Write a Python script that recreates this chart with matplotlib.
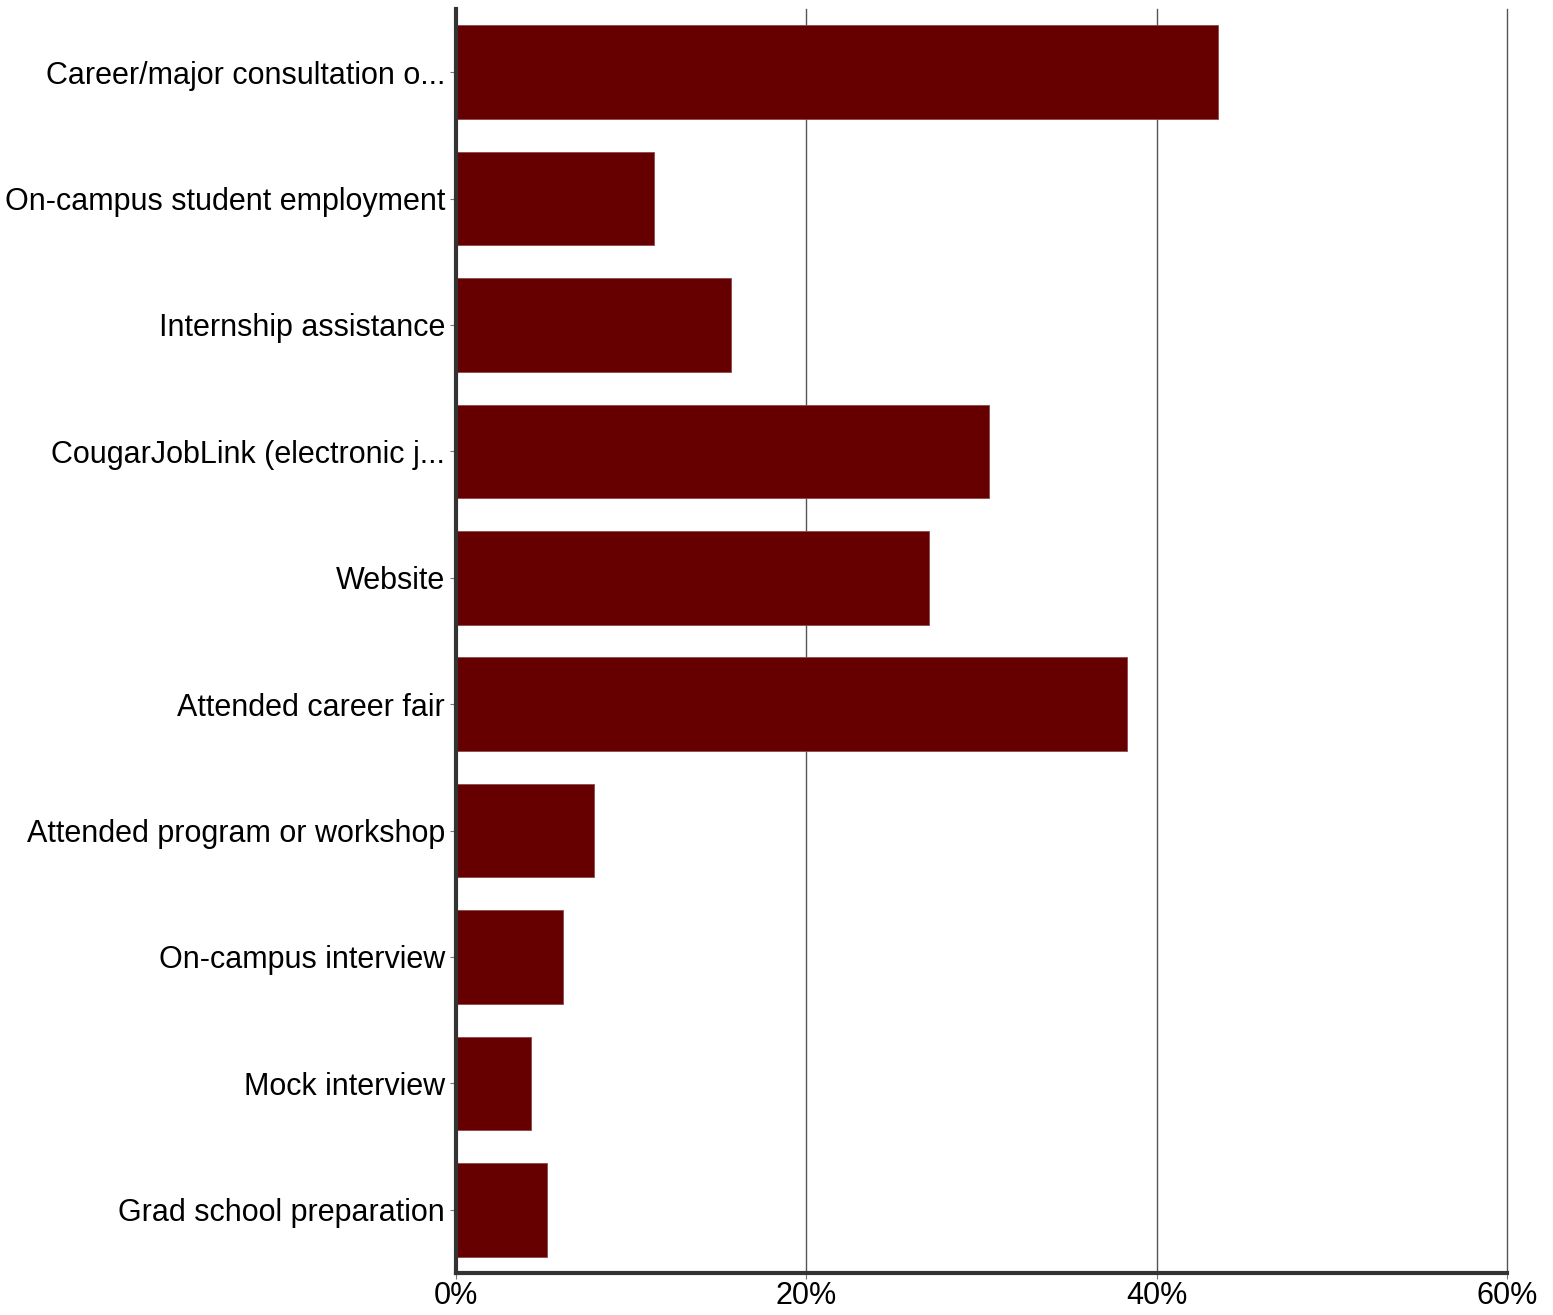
import matplotlib.pyplot as plt
from matplotlib.ticker import FuncFormatter

plt.rcParams['font.family'] = ['Liberation Sans', 'DejaVu Sans']

categories = [
    'Career/major consultation o...',
    'On-campus student employment',
    'Internship assistance',
    'CougarJobLink (electronic j...',
    'Website',
    'Attended career fair',
    'Attended program or workshop',
    'On-campus interview',
    'Mock interview',
    'Grad school preparation',
]
percent = [43.5, 11.3, 15.7, 30.4, 27.0, 38.3, 7.9, 6.1, 4.3, 5.2]
xticks = [0, 20, 40, 60]

fig = plt.figure(figsize=(15.53, 13.15), dpi=100)
ax = fig.add_axes([456 / 1553, 1 - 1273 / 1315, 1051 / 1553, 1264 / 1315])

ypos = list(range(len(categories)))
ax.barh(ypos, percent, height=0.74, color='#660000', edgecolor='#8a4a4a',
        linewidth=0.6, zorder=3)
ax.set_yticks(ypos)
ax.set_yticklabels(categories)
ax.set_ylim(len(categories) - 0.5, -0.5)
ax.set_xlim(0, 60)
ax.set_xticks(xticks)
ax.xaxis.set_major_formatter(FuncFormatter(lambda v, p: f'{v:.0f}%'))

# vertical gridlines (drawn unclipped so the 60% line is fully visible)
for t in xticks[1:]:
    ax.axvline(t, color='#555555', linewidth=1.0, zorder=0, clip_on=False)

for s in ['top', 'right']:
    ax.spines[s].set_visible(False)
for s in ['left', 'bottom']:
    ax.spines[s].set_color('#333333')
    ax.spines[s].set_linewidth(3)
    ax.spines[s].set_zorder(4)

ax.tick_params(axis='y', labelsize=22, length=4, color='#777777', pad=4)
ax.tick_params(axis='x', labelsize=22, length=4, color='#777777', pad=2)

fig.savefig('out.png', dpi=100, facecolor='white')
